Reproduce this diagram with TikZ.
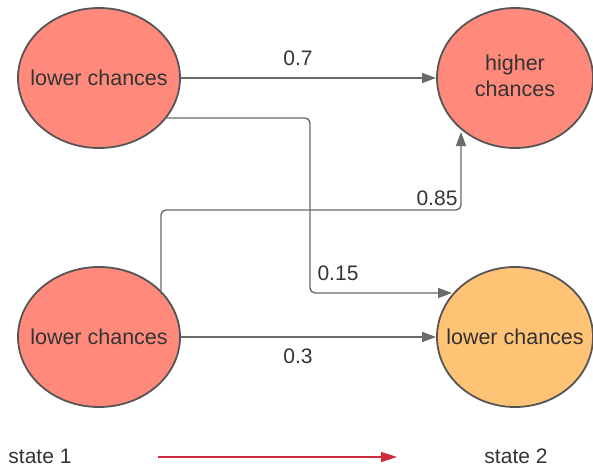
\documentclass[tikz,border=0pt]{standalone}
\usepackage{fontspec}
\setmainfont{Liberation Sans}
\usetikzlibrary{arrows.meta,shapes.geometric}
\definecolor{salmon}{HTML}{FF8A7C}
\definecolor{peach}{HTML}{FFC375}
\definecolor{edgegray}{HTML}{555555}
\definecolor{linegray}{HTML}{6A6A6A}
\definecolor{redline}{HTML}{D12A3A}
\begin{document}
\begin{tikzpicture}[x=1pt,y=-1pt,
  state/.style={ellipse,draw=edgegray,line width=1.8pt,minimum width=#1,minimum height=140pt,inner sep=0pt},
  txt/.style={align=center,font=\fontsize{21.5}{26}\selectfont,text=black!80,inner sep=0pt},
  conn/.style={draw=linegray,line width=1.4pt,rounded corners=5pt,-{Triangle[length=14pt,width=10pt]}},
  lbl/.style={font=\fontsize{21}{24}\selectfont,text=black!80},
]
\useasboundingbox (0,0) rectangle (593,468);
\node[state=162pt,fill=salmon,label={[txt]center:lower chances}] (a) at (99,78) {};
\node[state=156pt,fill=salmon,label={[txt,yshift=2pt]center:higher\\chances}] (b) at (515,78) {};
\node[state=162pt,fill=salmon,label={[txt]center:lower chances}] (c) at (99,337) {};
\node[state=156pt,fill=peach,label={[txt]center:lower chances}] (d) at (515,337) {};
\coordinate (a2) at (164,118);
\coordinate (c2) at (161,294);
\coordinate (b2) at (461,132);
\coordinate (d2) at (452,293);
\draw[conn] (a) -- (b);
\draw[conn] (c) -- (d);
\draw[conn] (a2) -- (310,118) -- (310,293) -- (d2);
\draw[conn] (c2) -- (161,210) -- (461,210) -- (b2);
\node[lbl] (l07) at (298,58) {0.7};
\node[lbl] (l03) at (298,356) {0.3};
\node[lbl] (l015) at (338,273) {0.15};
\node[lbl] (l085) at (437,198) {0.85};
\node[lbl] (s1) at (40,456) {state 1};
\node[lbl] (s2) at (516,456) {state 2};
\coordinate (r1) at (158,457);
\coordinate (r2) at (397,457);
\draw[draw=redline,line width=1.4pt,-{Triangle[length=16pt,width=10pt]}] (r1) -- (r2);
\end{tikzpicture}
\end{document}
